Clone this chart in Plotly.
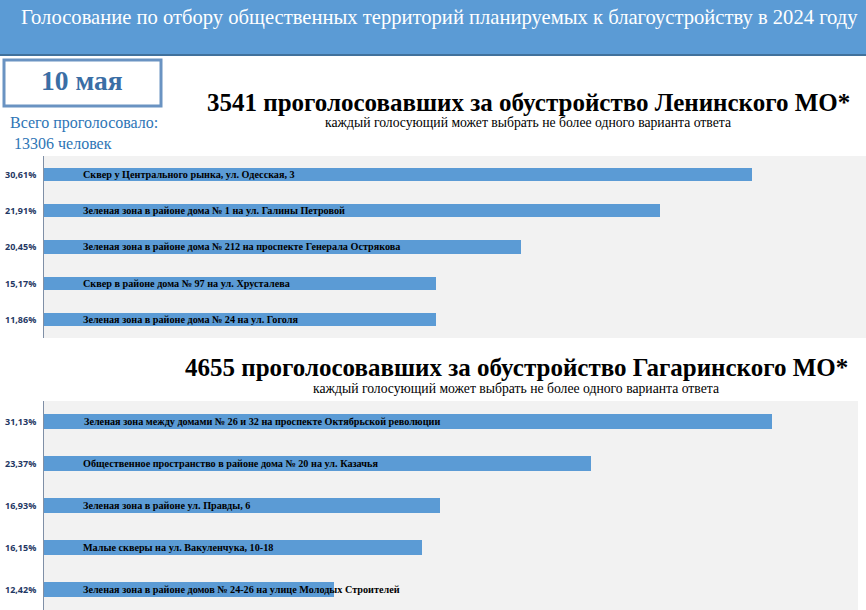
import plotly.graph_objects as go

W, H = 866, 610

# ---- data ----
header_title = "Голосование по отбору общественных территорий планируемых к благоустройству в 2024 году"
date_label = "10 мая"
total_label = "Всего проголосовало:<br> 13306 человек"

top_title = "3541 проголосовавших за обустройство Ленинского МО*"
bottom_title = "4655 проголосовавших за обустройство Гагаринского МО*"
subtitle = "каждый голосующий может выбрать не более одного варианта ответа"

top_places = [
    "Сквер у Центрального рынка, ул. Одесская, 3",
    "Зеленая зона в районе дома № 1 на ул. Галины Петровой",
    "Зеленая зона в районе дома № 212 на проспекте Генерала Острякова",
    "Сквер в районе дома № 97 на ул. Хрусталева",
    "Зеленая зона в районе дома № 24 на ул. Гоголя",
]
top_pct = ["30,61%", "21,91%", "20,45%", "15,17%", "11,86%"]
# relative bar lengths as drawn in the picture (0-100 of the plot width)
top_bar = [86.1, 74.9, 58.0, 47.7, 47.7]

bottom_places = [
    "Зеленая зона между домами № 26 и 32 на проспекте Октябрьской революции",
    "Общественное пространство в районе дома № 20 на ул. Казачья",
    "Зеленая зона в районе ул. Правды, 6",
    "Малые скверы на ул. Вакуленчука, 10-18",
    "Зеленая зона в районе домов № 24-26 на улице Молодых Строителей",
]
bottom_pct = ["31,13%", "23,37%", "16,93%", "16,15%", "12,42%"]
bottom_bar = [88.6, 66.5, 48.2, 46.0, 35.3]


def px(p):
    return p / W


def py(p):
    return 1 - p / H


BAR = "#5b9bd5"
BG = "#f2f2f2"
SERIF = "Times New Roman"

fig = go.Figure()

fig.add_trace(go.Bar(x=top_bar, y=list(range(len(top_bar))), orientation="h",
                     marker=dict(color=BAR, line=dict(width=0)), width=0.36,
                     xaxis="x", yaxis="y", hoverinfo="skip"))
fig.add_trace(go.Bar(x=bottom_bar, y=list(range(len(bottom_bar))), orientation="h",
                     marker=dict(color=BAR, line=dict(width=0)), width=0.36,
                     xaxis="x2", yaxis="y2", hoverinfo="skip"))

ann = []
for i, (name, pct) in enumerate(zip(top_places, top_pct)):
    ann.append(dict(x=4.5, y=i, xref="x", yref="y", text=name, showarrow=False,
                    xanchor="left", yanchor="middle",
                    font=dict(family=SERIF, size=10.2, color="#000000", weight="bold")))
    ann.append(dict(x=px(38), y=i, xref="paper", yref="y", text=pct, showarrow=False,
                    xanchor="right", yanchor="middle",
                    font=dict(family="Open Sans", size=9, color="#1f3864", weight="bold")))
for i, (name, pct) in enumerate(zip(bottom_places, bottom_pct)):
    ann.append(dict(x=4.62 if i == 0 else 4.5, y=i, xref="x2", yref="y2", text=name,
                    showarrow=False, xanchor="left", yanchor="middle",
                    font=dict(family=SERIF, size=10.2, color="#000000", weight="bold")))
    ann.append(dict(x=px(38), y=i, xref="paper", yref="y2", text=pct, showarrow=False,
                    xanchor="right", yanchor="middle",
                    font=dict(family="Open Sans", size=9, color="#1f3864", weight="bold")))

ann.append(dict(x=px(439), y=py(18), xref="paper", yref="paper", text=header_title,
                showarrow=False, xanchor="center", yanchor="middle",
                font=dict(family=SERIF, size=20.6, color="#ffffff")))
ann.append(dict(x=px(82), y=py(80), xref="paper", yref="paper", text=date_label,
                showarrow=False, xanchor="center", yanchor="middle",
                font=dict(family=SERIF, size=27.5, color="#3a6ea5", weight="bold")))
ann.append(dict(x=px(84), y=py(133), xref="paper", yref="paper", text=total_label,
                showarrow=False, xanchor="center", yanchor="middle", align="left",
                font=dict(family=SERIF, size=16, color="#2e75b6")))
ann.append(dict(x=px(528), y=py(102), xref="paper", yref="paper", text=top_title,
                showarrow=False, xanchor="center", yanchor="middle",
                font=dict(family=SERIF, size=25, color="#000000", weight="bold")))
ann.append(dict(x=px(528), y=py(123), xref="paper", yref="paper", text=subtitle,
                showarrow=False, xanchor="center", yanchor="middle",
                font=dict(family=SERIF, size=13.7, color="#000000")))
ann.append(dict(x=px(516), y=py(367), xref="paper", yref="paper", text=bottom_title,
                showarrow=False, xanchor="center", yanchor="middle",
                font=dict(family=SERIF, size=25, color="#000000", weight="bold")))
ann.append(dict(x=px(516), y=py(389), xref="paper", yref="paper", text=subtitle,
                showarrow=False, xanchor="center", yanchor="middle",
                font=dict(family=SERIF, size=13.7, color="#000000")))

shapes = [
    dict(type="rect", xref="paper", yref="paper", x0=0, x1=1, y0=py(55), y1=1,
         fillcolor="#5b9bd5", line=dict(width=0), layer="below"),
    dict(type="line", xref="paper", yref="paper", x0=0, x1=1, y0=py(55), y1=py(55),
         line=dict(color="#41719c", width=2)),
    dict(type="rect", xref="paper", yref="paper", x0=px(4), x1=px(161), y0=py(106), y1=py(60),
         fillcolor="#ffffff", line=dict(color="#6a93c2", width=3)),
    dict(type="rect", xref="paper", yref="paper", x0=px(44), x1=1, y0=py(338), y1=py(156),
         fillcolor=BG, line=dict(width=0), layer="below"),
    dict(type="rect", xref="paper", yref="paper", x0=px(44), x1=px(858), y0=0, y1=py(401),
         fillcolor=BG, line=dict(width=0), layer="below"),
]

fig.update_layout(
    width=W, height=H, margin=dict(l=0, r=0, t=0, b=0),
    paper_bgcolor="#ffffff", plot_bgcolor="rgba(0,0,0,0)",
    showlegend=False, bargap=0,
    annotations=ann, shapes=shapes,
    xaxis=dict(domain=[px(44), 1], range=[0, 100], showgrid=False, zeroline=False,
               showticklabels=False, fixedrange=True),
    yaxis=dict(domain=[py(338), py(156)], range=[4.5, -0.5], showgrid=False, zeroline=False,
               showticklabels=False, showline=True, linecolor="#7f8fa6", linewidth=1,
               fixedrange=True),
    xaxis2=dict(domain=[px(44), 1], range=[0, 100], showgrid=False, zeroline=False,
                showticklabels=False, anchor="y2", fixedrange=True),
    yaxis2=dict(domain=[0, py(401)], range=[4.5, -0.5], showgrid=False, zeroline=False,
                showticklabels=False, showline=True, linecolor="#7f8fa6", linewidth=1,
                anchor="x2", fixedrange=True),
)

fig.write_html("out.html", config={"displayModeBar": False},
               post_script="document.body.style.margin='0';document.body.style.padding='0';")
